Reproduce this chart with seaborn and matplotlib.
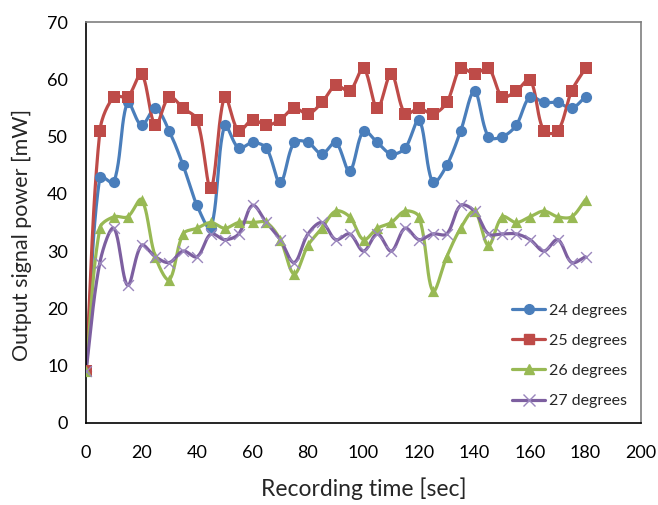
import numpy as np
import pandas as pd
import matplotlib
matplotlib.use("Agg")
import matplotlib.pyplot as plt
import seaborn as sns
from matplotlib.lines import Line2D

time_sec = list(range(0, 181, 5))
deg24 = [9, 43, 42, 56, 52, 55, 51, 45, 38, 34, 52, 48, 49, 48, 42, 49, 49, 47, 49, 44,
         51, 49, 47, 48, 53, 42, 45, 51, 58, 50, 50, 52, 57, 56, 56, 55, 57]
deg25 = [9, 51, 57, 57, 61, 52, 57, 55, 53, 41, 57, 51, 53, 52, 53, 55, 54, 56, 59, 58,
         62, 55, 61, 54, 55, 54, 56, 62, 61, 62, 57, 58, 60, 51, 51, 58, 62]
deg26 = [9, 34, 36, 36, 39, 29, 25, 33, 34, 35, 34, 35, 35, 35, 32, 26, 31, 34, 37, 36,
         32, 34, 35, 37, 36, 23, 29, 34, 37, 31, 36, 35, 36, 37, 36, 36, 39]
deg27 = [9, 28, 34, 24, 31, 29, 28, 30, 29, 33, 32, 33, 38, 35, 32, 28, 33, 35, 32, 33,
         30, 33, 30, 34, 32, 33, 33, 38, 37, 33, 33, 33, 32, 30, 32, 28, 29]
series_names = ["24 degrees", "25 degrees", "26 degrees", "27 degrees"]
series_values = [deg24, deg25, deg26, deg27]
colors = ["#4A7EBB", "#BE4B48", "#98B954", "#7D5FA0"]
markers = ["o", "s", "^", "x"]

df = pd.DataFrame({"time": np.tile(time_sec, 4),
                   "power": np.concatenate(series_values),
                   "series": np.repeat(series_names, len(time_sec))})

X_MAX, Y_MAX = 200.0, 70.0


def smooth(ax, x, y, n=24):
    """Excel-style smoothed line through the data points (computed in display space)."""
    P = ax.transData.transform(np.column_stack([np.asarray(x, float), np.asarray(y, float)]))
    out = []
    t = np.linspace(0, 1, n, endpoint=False)
    N = len(P)
    for i in range(N - 1):
        p0, p3 = P[i], P[i + 1]
        pm = P[i - 1] if i > 0 else P[i]
        pp = P[i + 2] if i + 2 < N else P[i + 1]
        d_prev = np.linalg.norm(p0 - pm)
        d_cur = np.linalg.norm(p3 - p0)
        d_next = np.linalg.norm(pp - p3)
        k1 = d_cur / (d_prev + d_cur) if (d_prev + d_cur) > 0 else 0
        k2 = d_cur / (d_cur + d_next) if (d_cur + d_next) > 0 else 0
        c1 = p0 + (p3 - pm) * k1 / 3.0
        c2 = p3 - (pp - p0) * k2 / 3.0
        seg = ((1 - t) ** 3)[:, None] * p0 + (3 * (1 - t) ** 2 * t)[:, None] * c1 \
            + (3 * (1 - t) * t ** 2)[:, None] * c2 + (t ** 3)[:, None] * p3
        out.append(seg)
    out.append(P[-1:])
    out = ax.transData.inverted().transform(np.vstack(out))
    return out[:, 0], out[:, 1]


sns.set_style("white")
plt.rcParams["font.family"] = ["Lato", "DejaVu Sans"]

fig = plt.figure(figsize=(6.58, 5.05), dpi=100)
ax = fig.add_axes([86 / 658, 1 - 422.5 / 505, (641 - 86) / 658, (422.5 - 22.5) / 505])
ax.set_xlim(0, X_MAX)
ax.set_ylim(0, Y_MAX)

handles = []
for name, vals, c, m in zip(series_names, series_values, colors, markers):
    sx, sy = smooth(ax, time_sec, vals)
    ax.plot(sx, sy, color=c, lw=2.3, solid_capstyle="round", zorder=2)
    sub = df[df["series"] == name]
    if m == "x":
        sns.scatterplot(data=sub, x="time", y="power", ax=ax, marker="x", s=60,
                        color="#9A86BD", linewidth=1.0, zorder=3, legend=False)
        handles.append(Line2D([0], [0], color=c, lw=2.3, marker="x", markersize=8,
                              markeredgecolor="#9A86BD", markeredgewidth=1.0))
    else:
        sns.scatterplot(data=sub, x="time", y="power", ax=ax, marker=m, s=65,
                        color=c, edgecolor=c, linewidth=0, zorder=3, legend=False)
        handles.append(Line2D([0], [0], color=c, lw=2.3, marker=m, markersize=7,
                              markeredgecolor=c, markerfacecolor=c))

ax.set_xlim(0, X_MAX)
ax.set_ylim(0, Y_MAX)
ax.set_xticks(range(0, 201, 20))
ax.set_yticks(range(0, 71, 10))
ax.tick_params(axis="x", labelsize=13, length=0, pad=16, colors="#000000")
ax.tick_params(axis="y", labelsize=13, length=0, pad=13, colors="#000000")
ax.set_xlabel("Recording time [sec]", fontsize=16.5, labelpad=12)
ax.set_ylabel("Output signal power [mW]", fontsize=15.5, labelpad=12)
ax.yaxis.set_label_coords(-0.097, 0.47)

for side in ["left", "bottom"]:
    ax.spines[side].set_color("#000000")
    ax.spines[side].set_linewidth(1.2)
for side in ["top", "right"]:
    ax.spines[side].set_color("#7F7F7F")
    ax.spines[side].set_linewidth(1.2)

leg = ax.legend(handles, series_names, loc="lower right", bbox_to_anchor=(1.0, 0.0),
                frameon=False, fontsize=11.5, handlelength=2.1, handletextpad=0.2,
                labelspacing=1.0)

fig.savefig("out.png", dpi=100, facecolor="white")
